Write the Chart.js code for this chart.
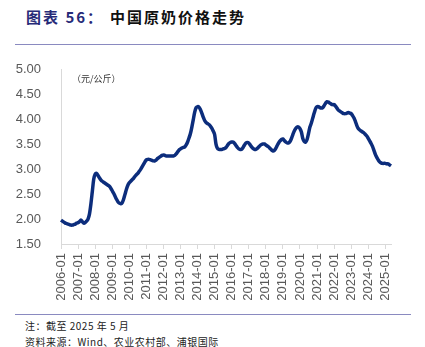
<!DOCTYPE html>
<html>
<head>
<meta charset="utf-8">
<script src="https://cdn.jsdelivr.net/npm/chart.js@4.4.1/dist/chart.umd.min.js"></script>
<style>
  body { margin: 0; background: #fff; width: 425px; height: 347px; position: relative; overflow: hidden; font-family: "Noto Sans CJK SC", sans-serif; }
  .title { position: absolute; left: 26px; top: 6px; font-size: 15px; font-weight: 700; letter-spacing: 2px; color: #111; white-space: nowrap; }
  .title .num { color: #262a78; margin-right: 6px; }
  .rule { position: absolute; left: 15px; width: 396px; height: 1px; background: #8a8ac0; }
  .unit { position: absolute; left: 72px; top: 72px; font-size: 9px; color: #333; white-space: nowrap; }
  .note { position: absolute; left: 25px; font-size: 10px; color: #222; white-space: nowrap; letter-spacing: 0.5px; }
  #wrap { position: absolute; left: 0; top: 50px; width: 425px; height: 262px; }
</style>
</head>
<body>
<div class="title"><span class="num">图表 56：</span>中国原奶价格走势</div>
<div class="rule" style="top:44px"></div>
<div id="wrap"><canvas id="ctx"></canvas></div>
<div class="unit">（元/公斤）</div>
<div class="rule" style="top:314px"></div>
<div class="note" style="top:318px">注：截至 2025 年 5 月</div>
<div class="note" style="top:334px">资料来源：Wind、农业农村部、浦银国际</div>
<script>
const years = ['2006','2007','2008','2009','2010','2011','2012','2013','2014','2015',
  '2016','2017','2018','2019','2020','2021','2022','2023','2024','2025']

// monthly raw milk price, yuan/kg, 2006-01 .. 2025-05
const price2006_2010 = [
  1.98, 1.96, 1.94, 1.92, 1.91, 1.90, 1.89, 1.88, 1.88, 1.89, 1.90, 1.92,
  1.93, 1.95, 1.98, 1.95, 1.92, 1.93, 1.96, 2.00, 2.10, 2.30, 2.55, 2.80,
  2.90, 2.92, 2.88, 2.83, 2.79, 2.76, 2.74, 2.72, 2.70, 2.68, 2.66, 2.62,
  2.57, 2.52, 2.46, 2.40, 2.35, 2.32, 2.31, 2.33, 2.40, 2.50, 2.60, 2.68,
  2.73, 2.76, 2.79, 2.82, 2.86, 2.89, 2.92, 2.96, 3.00, 3.05, 3.10, 3.15
]
const price2011_2015 = [
  3.19, 3.20, 3.20, 3.19, 3.18, 3.17, 3.17, 3.19, 3.22, 3.24, 3.26, 3.28,
  3.29, 3.28, 3.27, 3.27, 3.27, 3.27, 3.27, 3.27, 3.28, 3.31, 3.35, 3.39,
  3.41, 3.43, 3.44, 3.45, 3.49, 3.55, 3.63, 3.72, 3.85, 4.00, 4.15, 4.24,
  4.26, 4.25, 4.20, 4.13, 4.05, 3.98, 3.94, 3.92, 3.90, 3.87, 3.83, 3.77,
  3.70, 3.50, 3.42, 3.40, 3.40, 3.40, 3.41, 3.42, 3.44, 3.48, 3.52, 3.54
]
const price2016_2020 = [
  3.55, 3.55, 3.52, 3.48, 3.44, 3.41, 3.40, 3.40, 3.44, 3.49, 3.53, 3.54,
  3.53, 3.49, 3.45, 3.42, 3.40, 3.40, 3.42, 3.45, 3.48, 3.50, 3.51, 3.51,
  3.49, 3.47, 3.45, 3.42, 3.39, 3.37, 3.38, 3.42, 3.48, 3.53, 3.57, 3.60,
  3.61, 3.58, 3.55, 3.53, 3.53, 3.56, 3.62, 3.70, 3.77, 3.82, 3.85, 3.85,
  3.82, 3.75, 3.62, 3.56, 3.55, 3.60, 3.72, 3.85, 3.93, 4.03, 4.13, 4.22
]
const price2021_2025 = [
  4.26, 4.26, 4.24, 4.23, 4.24, 4.28, 4.33, 4.36, 4.35, 4.33, 4.31, 4.30,
  4.30, 4.27, 4.23, 4.19, 4.17, 4.15, 4.13, 4.12, 4.12, 4.13, 4.14, 4.13,
  4.12, 4.08, 4.03, 3.96, 3.88, 3.82, 3.79, 3.77, 3.75, 3.73, 3.70, 3.67,
  3.62, 3.57, 3.52, 3.46, 3.38, 3.30, 3.24, 3.19, 3.15, 3.13, 3.12, 3.12,
  3.12, 3.11, 3.11, 3.09, 3.07
]
const price = [...price2006_2010, ...price2011_2015, ...price2016_2020, ...price2021_2025]

const labels = []
years.forEach(y => {
  for (let m = 1; m <= 12; m++) {
    if (labels.length < price.length) labels.push(y + '-' + String(m).padStart(2, '0'))
  }
})

const grey = '#d9d9d9'
const tickColor = '#595959'

const options = {
  type: 'line',
  data: {
    labels,
    datasets: [{
      data: price,
      borderColor: '#0c2d7c',
      borderWidth: 3.5,
      pointRadius: 0,
      tension: 0.3,
      fill: false
    }]
  },
  options: {
    animation: false,
    responsive: true,
    maintainAspectRatio: false,
    layout: { padding: { top: 18, right: 34, left: 0, bottom: 0 } },
    plugins: { legend: { display: false }, tooltip: { enabled: false } },
    scales: {
      x: {
        afterFit: s => { s.height = 68 },
        border: { display: true, color: grey, width: 1 },
        grid: { display: true, drawOnChartArea: false, drawTicks: true, tickLength: 5, color: grey },
        ticks: {
          autoSkip: false,
          minRotation: 90,
          maxRotation: 90,
          padding: 4,
          color: tickColor,
          font: { family: '"Liberation Sans", Arial, sans-serif', size: 13 },
          callback: (v, i) => (i % 12 === 0 ? labels[i] : null)
        }
      },
      y: {
        min: 1.5,
        max: 5,
        afterFit: s => { s.width = 61 },
        border: { display: true, color: grey, width: 1 },
        grid: { display: false },
        ticks: {
          stepSize: 0.5,
          padding: 12,
          color: tickColor,
          font: { family: '"Liberation Sans", Arial, sans-serif', size: 13 },
          callback: v => v.toFixed(2)
        }
      }
    }
  }
}

const chart = new Chart(document.getElementById('ctx'), options)
</script>
</body>
</html>
